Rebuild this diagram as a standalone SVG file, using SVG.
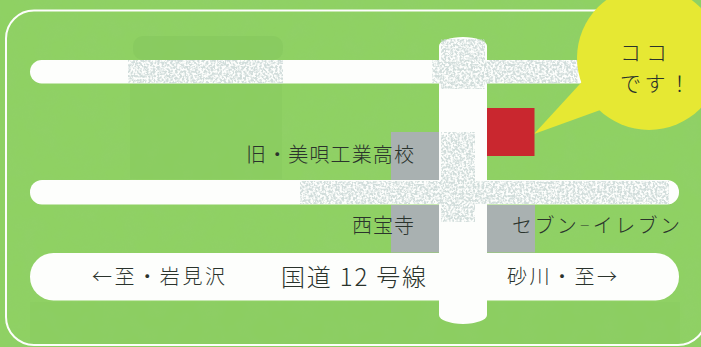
<svg xmlns="http://www.w3.org/2000/svg" width="701" height="347" viewBox="0 0 701 347">
<defs>
<style>
text{font-family:"Noto Sans CJK JP","Noto Sans",sans-serif;fill:#2a332c;font-weight:300}
.s{font-size:20px}
.m{font-size:21px}
.l{font-size:24px}
.road{fill:#fdfefc}
.bldg{fill:#a9b1b1}
.ghost{fill:#7fc459}
.ghostw{fill:#c3d2d0}
</style>
<filter id="grain" x="0" y="0" width="100%" height="100%">
<feTurbulence type="fractalNoise" baseFrequency="0.05" numOctaves="3" seed="4"/>
<feColorMatrix values="0 0 0 0 0.3  0 0 0 0 0.6  0 0 0 0 0.2  0 0 0 0.9 -0.3"/>
</filter>
<filter id="stipple" x="0" y="0" width="100%" height="100%">
<feTurbulence type="fractalNoise" baseFrequency="0.45" numOctaves="2" seed="9" result="n"/>
<feColorMatrix in="n" values="0 0 0 0 0  0 0 0 0 0  0 0 0 0 0  0 0 0 4 -1.500" result="m"/>
<feComposite in="SourceGraphic" in2="m" operator="in"/>
</filter>
</defs>
<rect id="background" width="701" height="347" fill="#8fd163"/>
<rect width="701" height="347" filter="url(#grain)" opacity=".35"/>
<g id="show-through">
<rect class="ghost" x="133" y="36" width="150" height="24" rx="10" opacity=".4"/>
<rect class="ghost" x="130" y="84" width="152" height="95" opacity=".25"/>
<rect class="ghost" x="30" y="302" width="650" height="42" opacity=".15"/>
</g>
<rect id="frame" x="6" y="10.500" width="700" height="334.500" rx="28" fill="none" stroke="#fdfefc" stroke-width="2"/>
<g id="connectors">
<rect class="road" x="30" y="60" width="570" height="23.500" rx="11.700"/>
<rect class="road" x="30" y="180" width="649" height="24.500" rx="12"/>
<rect class="road" x="30" y="253" width="649" height="47.500" rx="23.500"/>
<rect class="road" x="439" y="37" width="48" height="287" rx="24" ry="9"/>
<g filter="url(#stipple)" opacity=".75">
<rect class="ghostw" x="128" y="60" width="155" height="23.500"/>
<rect class="ghostw" x="300" y="181" width="139" height="23"/>
<rect class="ghostw" x="439" y="181" width="230" height="23"/>
<rect class="ghostw" x="432" y="60" width="146" height="23.500"/>
<rect class="ghostw" x="441" y="39" width="44" height="50"/>
<rect class="ghostw" x="441" y="132" width="34" height="90"/>
</g>
</g>
<g id="bubble">
<path d="M534 134L590 73L610 106.500Z" fill="#e6e833"/>
<circle cx="649" cy="58" r="72" fill="#e6e833"/>
<text class="m"><tspan x="620" y="60" textLength="47">ココ</tspan><tspan x="620" y="90.500" textLength="70">です！</tspan></text>
</g>
<g id="site"><rect x="487" y="108" width="47.500" height="48" fill="#c9272f"/></g>
<g id="school">
<rect class="bldg" x="391" y="132" width="48" height="48"/>
<text class="s" x="246" y="162" textLength="168">旧・美唄工業高校</text>
</g>
<g id="temple">
<rect class="bldg" x="391" y="205" width="48" height="47.500"/>
<text class="s" x="352" y="233" textLength="62">西宝寺</text>
</g>
<g id="seven-eleven">
<rect class="bldg" x="487" y="205" width="48" height="47.500"/>
<text class="s" x="512" y="233" textLength="168">セブン<tspan font-size="11" dy="-3">－</tspan><tspan dy="3">イレブン</tspan></text>
</g>
<g id="route12">
<text class="s" x="92" y="284" textLength="133">←至・岩見沢</text>
<text class="l" x="281" y="286" textLength="145">国道 12 号線</text>
<text class="s" x="507" y="284" textLength="110">砂川・至→</text>
</g>
</svg>
